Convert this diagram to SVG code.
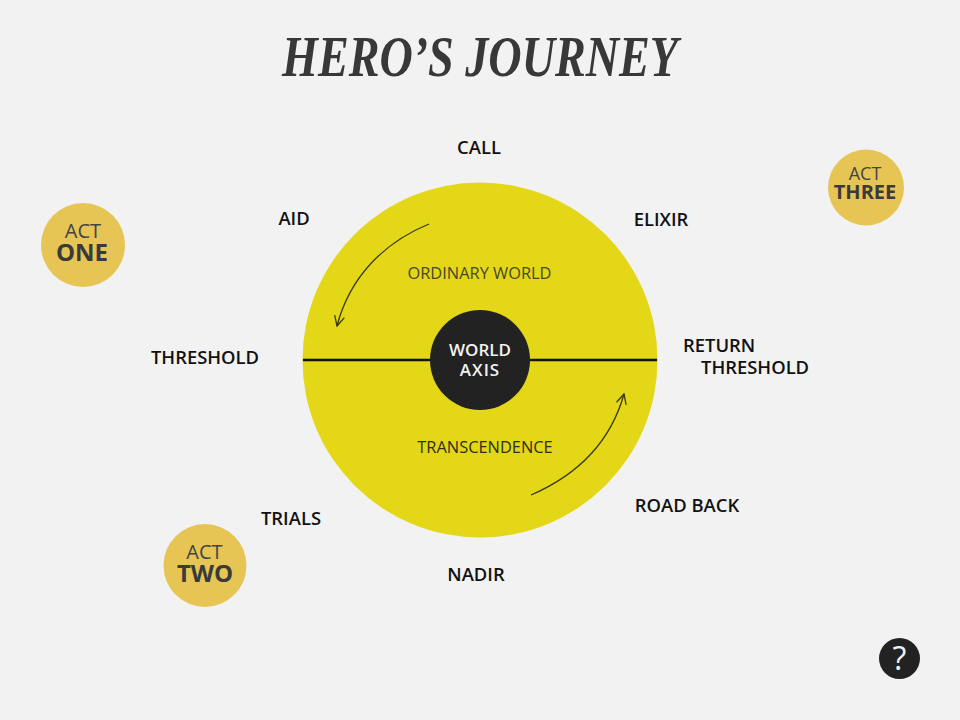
<svg xmlns="http://www.w3.org/2000/svg" width="960" height="720" viewBox="0 0 960 720">
<style>
text{font-family:"Open Sans","Noto Sans",sans-serif;text-anchor:middle}
.l{font-size:18.400px;font-weight:600;fill:#111}
.s{text-anchor:start}
.in{font-size:16.400px;fill:#48482a}
.act{fill:#e6c555}
.a1{fill:#444;font-weight:400}
.a2{fill:#3a3a3a;font-weight:700}
.arc{fill:none;stroke:#3a3a14;stroke-width:1.3;marker-end:url(#h)}
</style>
<defs><marker id="h" viewBox="0 0 12 12" refX="11" refY="6" markerWidth="12" markerHeight="12" markerUnits="userSpaceOnUse" orient="auto"><path d="M1 1L11 6L1 11" fill="none" stroke="#3a3a14" stroke-width="1.3"/></marker></defs>
<rect width="960" height="720" fill="#f2f2f2"/>
<text id="title" x="480" y="76" textLength="396" lengthAdjust="spacingAndGlyphs" style="font-family:'Liberation Serif',serif;font-size:56px;font-weight:700;font-style:italic" fill="#383838">HERO’S JOURNEY</text>
<g id="wheel"><circle cx="480" cy="360" r="177.500" fill="#e3d717"/></g>
<g id="connectors">
<line x1="303" y1="360" x2="657" y2="360" stroke="#111" stroke-width="2.500"/>
<path class="arc" d="M429 224C385 242 350 276 337 326"/>
<path class="arc" d="M531 495C575 476 610 444 624 394"/>
</g>
<g id="axis"><circle cx="480" cy="360" r="50" fill="#222"/><text font-size="17" font-weight="600" fill="#f2f2f2"><tspan x="480" y="356">WORLD</tspan><tspan x="480" y="376" letter-spacing="1">AXIS</tspan></text></g>
<text id="ordinary" class="in" x="479.500" y="279">ORDINARY WORLD</text>
<text id="transcendence" class="in" x="485" y="453" style="fill:#2e2e18">TRANSCENDENCE</text>
<g id="call"><text class="l" x="479" y="154">CALL</text></g>
<g id="aid"><text class="l" x="294" y="225">AID</text></g>
<g id="elixir"><text class="l" x="661" y="226">ELIXIR</text></g>
<g id="threshold"><text class="l" x="205" y="364">THRESHOLD</text></g>
<g id="return"><text class="l s"><tspan x="683" y="352">RETURN</tspan><tspan x="701" y="374">THRESHOLD</tspan></text></g>
<g id="trials"><text class="l" x="291" y="525">TRIALS</text></g>
<g id="roadback"><text class="l" x="687" y="512">ROAD BACK</text></g>
<g id="nadir"><text class="l" x="476" y="581">NADIR</text></g>
<g id="act1"><circle class="act" cx="83" cy="245" r="42"/><text><tspan class="a1" x="83" y="238" font-size="20">ACT</tspan><tspan class="a2" x="82" y="261" font-size="24">ONE</tspan></text></g>
<g id="act2"><circle class="act" cx="205" cy="565.500" r="41.500"/><text><tspan class="a1" x="204.500" y="559" font-size="20">ACT</tspan><tspan class="a2" x="205" y="582" font-size="24">TWO</tspan></text></g>
<g id="act3"><circle class="act" cx="866" cy="187.500" r="38"/><text><tspan class="a1" x="865" y="180" font-size="18">ACT</tspan><tspan class="a2" x="865" y="199" font-size="20">THREE</tspan></text></g>
<g id="help"><circle cx="899.500" cy="658.500" r="20.500" fill="#222"/><text x="899.500" y="670" font-size="32" font-weight="500" fill="#f2f2f2">?</text></g>
</svg>
